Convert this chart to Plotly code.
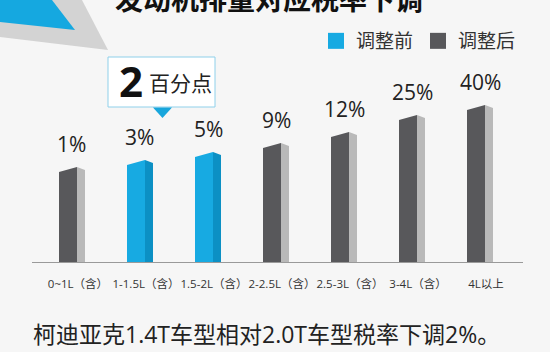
import plotly.graph_objects as go

# ---------------- data ----------------
categories = ["0~1L（含）", "1-1.5L（含）", "1.5-2L（含）", "2-2.5L（含）",
              "2.5-3L（含）", "3-4L（含）", "4L以上"]
rate_labels = ["1%", "3%", "5%", "9%", "12%", "25%", "40%"]
# drawn bar heights (decorative scale, not proportional)
bar_heights = [90, 97, 105, 114, 125, 142, 152]
bar_group = ["调整后", "调整前", "调整前", "调整后", "调整后", "调整后", "调整后"]
legend_names = ["调整前", "调整后"]
title_text = "发动机排量对应税率下调"
callout_num = "2"
callout_unit = "百分点"
footer_text = "柯迪亚克1.4T车型相对2.0T车型税率下调2%。"

# ---------------- style ----------------
W, H = 550, 352
ML, MR, MT, MB = 32, 27, 60, 90
PW, PH = W - ML - MR, H - MT - MB
XR = [-0.676, 6.544]
YR = [0, PH]
colors = {
    "调整前": {"front": "#17aae2", "side": "#0c90c4"},
    "调整后": {"front": "#58585b", "side": "#b9b9b9"},
}
FRONT_OFF, FRONT_W = -0.147, 0.265
SIDE_OFF, SIDE_W = 0.044, 0.118
SLANT = 5
CJK = "Open Sans, Noto Sans CJK SC, sans-serif"


def pp(px, py):
    """pixel -> paper coordinates"""
    return (px - ML) / PW, (H - MB - py) / PH


fig = go.Figure()

idx = list(range(len(categories)))
for g in legend_names:
    sel = [i for i in idx if bar_group[i] == g]
    xs = [i + FRONT_OFF for i in sel]
    hs = [bar_heights[i] for i in sel]
    fig.add_trace(go.Bar(x=xs, y=hs, width=FRONT_W, marker_color=colors[g]["front"],
                         marker_line_width=0, showlegend=False, hoverinfo="skip"))
    fig.add_trace(go.Bar(x=[i + SIDE_OFF for i in sel], y=hs, width=SIDE_W,
                         marker_color=colors[g]["side"], marker_line_width=0,
                         showlegend=False, hoverinfo="skip"))
    # slanted tops
    fx, fy, sx, sy = [], [], [], []
    for i in sel:
        h = bar_heights[i]
        L = i + FRONT_OFF - FRONT_W / 2
        R = i + FRONT_OFF + FRONT_W / 2
        S = i + SIDE_OFF + SIDE_W / 2
        fx += [L, R, R, L, None]
        fy += [h, h, h + SLANT, h, None]
        sx += [R, R, S, S, R, None]
        sy += [h, h + SLANT, h + SLANT * 0.4, h, h, None]
    fig.add_trace(go.Scatter(x=fx, y=fy, mode="lines", fill="toself", line_width=0,
                             fillcolor=colors[g]["front"], showlegend=False, hoverinfo="skip"))
    fig.add_trace(go.Scatter(x=sx, y=sy, mode="lines", fill="toself", line_width=0,
                             fillcolor=colors[g]["side"], showlegend=False, hoverinfo="skip"))

# legend entries
for g in legend_names:
    fig.add_trace(go.Scatter(x=[None], y=[None], mode="markers", name=g,
                             marker=dict(symbol="square", size=16, color=colors[g]["front"])))

# value labels
for i in idx:
    fig.add_annotation(x=i - 0.088, y=bar_heights[i], text=rate_labels[i], showarrow=False,
                       yshift=28, xanchor="center", yanchor="middle",
                       font=dict(family=CJK, size=21, color="#222222"))

shapes = []
# decorative corner
def path(points):
    s = ""
    for k, (px, py) in enumerate(points):
        x, y = pp(px, py)
        s += ("M" if k == 0 else "L") + f"{x:.4f},{y:.4f} "
    return s + "Z"

shapes.append(dict(type="path", xref="paper", yref="paper", layer="below",
                   path=path([(0, 0), (82, 0), (108, 50), (0, 37)]),
                   fillcolor="#d3d3d3", line_width=0))
shapes.append(dict(type="path", xref="paper", yref="paper", layer="below",
                   path=path([(0, 0), (52, 0), (75, 30), (0, 22)]),
                   fillcolor="#15a8e0", line_width=0))
# callout box
x0, y0 = pp(108, 57)
x1, y1 = pp(215, 107)
shapes.append(dict(type="rect", xref="paper", yref="paper", x0=x0, y0=y1, x1=x1, y1=y0,
                   fillcolor="#ffffff", line=dict(color="#8fd0ea", width=1)))
shapes.append(dict(type="path", xref="paper", yref="paper",
                   path=path([(153, 107.5), (172, 107.5), (162.5, 118)]),
                   fillcolor="#18a6dc", line_width=0))

bx, by = pp(131, 80)
fig.add_annotation(xref="paper", yref="paper", x=bx, y=by, text=f"<b>{callout_num}</b>",
                   showarrow=False, xanchor="center", yanchor="middle",
                   font=dict(family="Open Sans, sans-serif", size=42, color="#111111"))
ux, uy = pp(180.5, 82)
fig.add_annotation(xref="paper", yref="paper", x=ux, y=uy, text=callout_unit,
                   showarrow=False, xanchor="center", yanchor="middle",
                   font=dict(family="Noto Sans CJK SC", size=21, color="#222222"))

tx, ty = pp(268.5, -2)
fig.add_annotation(xref="paper", yref="paper", x=tx, y=ty, text=f"<b>{title_text}</b>",
                   showarrow=False, xanchor="center", yanchor="middle",
                   font=dict(family="Noto Sans CJK SC", size=28, color="#111111"))
fx_, fy_ = pp(31, 334)
fig.add_annotation(xref="paper", yref="paper", x=fx_, y=fy_, text=footer_text,
                   showarrow=False, xanchor="left", yanchor="middle",
                   font=dict(family=CJK, size=23, color="#222222"))

lx, ly = pp(316, 41)
fig.update_layout(
    width=W, height=H,
    margin=dict(l=ML, r=MR, t=MT, b=MB),
    paper_bgcolor="#f6f6f6", plot_bgcolor="rgba(0,0,0,0)",
    barmode="overlay", bargap=0,
    shapes=shapes,
    showlegend=True,
    legend=dict(orientation="h", x=lx, y=ly, xanchor="left", yanchor="middle",
                font=dict(family="Noto Sans CJK SC", size=19, color="#333333"),
                bgcolor="rgba(0,0,0,0)", itemclick=False, itemdoubleclick=False),
    xaxis=dict(range=XR, tickmode="array", tickvals=idx, ticktext=categories,
               showgrid=False, zeroline=False, showline=True, linecolor="#9a9a9a",
               linewidth=1, ticks="", ticklabelstandoff=11, tickangle=0,
               tickfont=dict(family=CJK, size=11.5, color="#333333"),
               fixedrange=True),
    yaxis=dict(range=YR, visible=False, showgrid=False, fixedrange=True),
)

fig.write_html("out.html", config={"displayModeBar": False})
